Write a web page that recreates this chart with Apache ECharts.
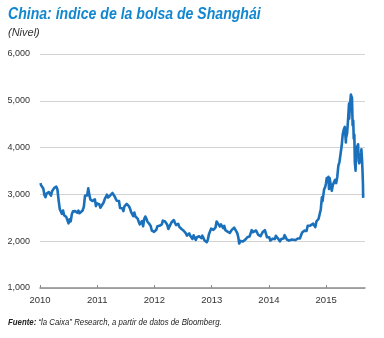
<!DOCTYPE html>
<html><head><meta charset="utf-8">
<script src="https://cdn.jsdelivr.net/npm/echarts@6/dist/echarts.min.js"></script>
<style>html,body{margin:0;padding:0;background:#fff}#c{width:384px;height:338px}</style>
</head><body><div id="c"></div>
<script>
var titleText = 'China: índice de la bolsa de Shanghái';
var subtitleText = '(Nivel)';
var sourceBold = 'Fuente:';
var sourceText = ' “la Caixa” Research, a partir de datos de Bloomberg.';
var yTicks = [1000, 2000, 3000, 4000, 5000, 6000];
var xTickLabels = ['2010', '2011', '2012', '2013', '2014', '2015'];

var dates2010 = ['2010-01-04','2010-01-08','2010-01-15','2010-01-22','2010-01-29','2010-02-05','2010-02-12','2010-02-26','2010-03-05','2010-03-12','2010-03-19','2010-03-26','2010-04-02','2010-04-09','2010-04-15','2010-04-22','2010-04-30','2010-05-07','2010-05-14','2010-05-21','2010-05-28','2010-06-04','2010-06-11','2010-06-18','2010-06-25','2010-07-02','2010-07-09','2010-07-16','2010-07-23','2010-07-30','2010-08-06','2010-08-13','2010-08-20','2010-08-27','2010-09-03','2010-09-10','2010-09-17','2010-09-30','2010-10-08','2010-10-15','2010-10-22','2010-10-29','2010-11-05','2010-11-08','2010-11-12','2010-11-19','2010-11-26','2010-12-03','2010-12-10','2010-12-17','2010-12-24','2010-12-31'];
var values2010 = [3243,3196,3224,3128,2990,2940,3018,3051,3014,2975,3068,3060,3140,3130,3166,3110,2870,2688,2697,2583,2655,2553,2569,2515,2534,2382,2470,2424,2573,2637,2672,2642,2642,2610,2655,2598,2598,2656,2738,2971,2976,2979,3129,3159,2985,2888,2871,2858,2880,2895,2750,2808];

var dates2011 = ['2011-01-07','2011-01-14','2011-01-21','2011-01-28','2011-02-11','2011-02-18','2011-02-25','2011-03-04','2011-03-11','2011-03-18','2011-03-25','2011-04-01','2011-04-08','2011-04-15','2011-04-22','2011-04-29','2011-05-06','2011-05-13','2011-05-20','2011-05-27','2011-06-03','2011-06-10','2011-06-17','2011-06-24','2011-07-01','2011-07-08','2011-07-15','2011-07-22','2011-07-29','2011-08-05','2011-08-12','2011-08-19','2011-08-26','2011-09-02','2011-09-09','2011-09-16','2011-09-23','2011-09-30','2011-10-14','2011-10-21','2011-10-28','2011-11-04','2011-11-11','2011-11-18','2011-11-25','2011-12-02','2011-12-09','2011-12-16','2011-12-23','2011-12-30'];
var values2011 = [2839,2791,2715,2752,2827,2900,2905,2993,2935,2906,2978,2967,3030,3050,2960,2911,2865,2872,2858,2710,2728,2705,2642,2746,2763,2797,2820,2749,2701,2626,2593,2534,2612,2528,2497,2483,2415,2359,2431,2318,2473,2528,2481,2416,2397,2360,2315,2224,2204,2199];

var dates2012 = ['2012-01-06','2012-01-13','2012-01-20','2012-02-03','2012-02-10','2012-02-17','2012-02-24','2012-03-02','2012-03-09','2012-03-16','2012-03-23','2012-03-30','2012-04-06','2012-04-13','2012-04-20','2012-04-27','2012-05-04','2012-05-11','2012-05-18','2012-05-25','2012-06-01','2012-06-08','2012-06-15','2012-06-22','2012-06-29','2012-07-06','2012-07-13','2012-07-20','2012-07-27','2012-08-03','2012-08-10','2012-08-17','2012-08-24','2012-08-31','2012-09-07','2012-09-14','2012-09-21','2012-09-28','2012-10-12','2012-10-19','2012-10-26','2012-11-02','2012-11-09','2012-11-16','2012-11-23','2012-11-30','2012-12-04','2012-12-07','2012-12-14','2012-12-21','2012-12-28'];
var values2012 = [2164,2244,2319,2330,2351,2357,2439,2460,2420,2404,2350,2263,2302,2359,2406,2396,2452,2394,2345,2333,2373,2306,2306,2260,2225,2224,2185,2168,2120,2132,2168,2114,2092,2047,2127,2073,2027,2086,2104,2128,2066,2117,2070,2015,2027,1980,1959,2033,2150,2153,2269];

var dates2013 = ['2013-01-04','2013-01-11','2013-01-18','2013-01-25','2013-02-01','2013-02-08','2013-02-22','2013-03-01','2013-03-08','2013-03-15','2013-03-22','2013-03-29','2013-04-03','2013-04-12','2013-04-19','2013-04-26','2013-05-03','2013-05-10','2013-05-17','2013-05-24','2013-05-31','2013-06-07','2013-06-14','2013-06-20','2013-06-25','2013-06-28','2013-07-05','2013-07-12','2013-07-19','2013-07-26','2013-08-02','2013-08-09','2013-08-16','2013-08-23','2013-08-30','2013-09-06','2013-09-13','2013-09-18','2013-09-27','2013-10-11','2013-10-18','2013-10-25','2013-11-01','2013-11-08','2013-11-15','2013-11-22','2013-11-29','2013-12-06','2013-12-13','2013-12-20','2013-12-27','2013-12-31'];
var values2013 = [2276,2243,2285,2292,2419,2432,2314,2359,2319,2278,2328,2237,2225,2206,2244,2177,2205,2247,2283,2288,2301,2210,2162,2073,1951,1979,2007,2039,1992,2010,2030,2052,2085,2057,2098,2136,2236,2191,2160,2229,2193,2133,2149,2106,2136,2196,2220,2237,2196,2084,2101,2116];

var dates2014 = ['2014-01-03','2014-01-10','2014-01-17','2014-01-24','2014-01-30','2014-02-07','2014-02-14','2014-02-21','2014-02-28','2014-03-07','2014-03-12','2014-03-14','2014-03-21','2014-03-28','2014-04-04','2014-04-11','2014-04-18','2014-04-25','2014-05-02','2014-05-09','2014-05-16','2014-05-23','2014-05-30','2014-06-06','2014-06-13','2014-06-20','2014-06-27','2014-07-04','2014-07-11','2014-07-18','2014-07-25','2014-08-01','2014-08-08','2014-08-15','2014-08-22','2014-08-29','2014-09-05','2014-09-12','2014-09-19','2014-09-26','2014-09-30','2014-10-10','2014-10-17','2014-10-24','2014-10-31','2014-11-07','2014-11-14','2014-11-21','2014-11-28','2014-12-05','2014-12-09','2014-12-12','2014-12-19','2014-12-26','2014-12-31'];
var values2014 = [2083,2013,2004,2054,2033,2045,2115,2113,2056,2057,1997,2004,2047,2041,2058,2130,2097,2036,2027,2011,2026,2034,2039,2030,2070,2024,2036,2059,2047,2059,2127,2185,2194,2226,2241,2217,2327,2331,2329,2347,2364,2374,2341,2302,2420,2419,2479,2487,2683,2938,2856,2938,3108,3157,3235];

var dates2015 = ['2015-01-05','2015-01-09','2015-01-16','2015-01-19','2015-01-23','2015-01-30','2015-02-06','2015-02-13','2015-02-27','2015-03-06','2015-03-13','2015-03-20','2015-03-27','2015-04-03','2015-04-10','2015-04-17','2015-04-24','2015-04-30','2015-05-07','2015-05-08','2015-05-15','2015-05-22','2015-05-27','2015-05-28','2015-06-01','2015-06-05','2015-06-08','2015-06-12','2015-06-15','2015-06-19','2015-06-23','2015-06-26','2015-06-30','2015-07-03','2015-07-08','2015-07-10','2015-07-13','2015-07-17','2015-07-24','2015-07-27','2015-07-31','2015-08-07','2015-08-12','2015-08-14','2015-08-18','2015-08-21','2015-08-24','2015-08-25','2015-08-26'];
var values2015 = [3351,3285,3376,3116,3351,3210,3076,3204,3310,3241,3373,3617,3692,3864,4034,4287,4393,4441,4112,4205,4308,4657,4941,4620,4828,5023,5131,5166,5062,4478,4576,4193,4277,3687,3507,3878,3970,3957,4070,3725,3664,3744,3887,3965,3748,3507,3210,2965,2927];

var dates = [].concat(dates2010, dates2011, dates2012, dates2013, dates2014, dates2015);
var values = [].concat(values2010, values2011, values2012, values2013, values2014, values2015);
var seriesData = dates.map(function (d, i) { return [d, values[i]]; });

var ff = "'Liberation Sans', Arial, sans-serif";
var chart = echarts.init(document.getElementById('c'), null, {renderer: 'canvas'});
chart.setOption({
  animation: false,
  backgroundColor: '#ffffff',
  graphic: [
    {type: 'text', left: 8, top: 7, scaleX: 0.88, originX: 0,
     style: {text: titleText, fill: '#1287d0', font: 'italic bold 16px ' + ff}},
    {type: 'text', left: 8, top: 27,
     style: {text: subtitleText, fill: '#333', font: 'italic 11px ' + ff}},
    {type: 'text', left: 8, top: 318, scaleX: 0.87, originX: 0,
     style: {
       text: '{b|' + sourceBold + '}{i|' + sourceText + '}',
       rich: {
         b: {font: 'italic bold 9px ' + ff, fill: '#222'},
         i: {font: 'italic 9px ' + ff, fill: '#222'}
       }
     }}
  ],
  grid: {left: 40, right: 19, top: 54, bottom: 50, containLabel: false},
  xAxis: {
    type: 'time',
    min: '2010-01-01',
    max: '2015-09-06',
    interval: 365.25 * 24 * 3600 * 1000,
    axisLine: {lineStyle: {color: '#8c8c8c', width: 1.5}},
    axisTick: {show: true, inside: true, length: 3, lineStyle: {color: '#8c8c8c'}},
    splitLine: {show: false},
    axisLabel: {
      color: '#333', fontFamily: ff, fontSize: 9.5, margin: 7,
      formatter: function (v) {
        var y = new Date(v).getFullYear();
        return xTickLabels.indexOf(String(y)) >= 0 ? String(y) : '';
      }
    }
  },
  yAxis: {
    type: 'value',
    min: yTicks[0], max: yTicks[yTicks.length - 1], interval: 1000,
    axisLine: {show: false}, axisTick: {show: false},
    splitLine: {lineStyle: {color: '#d3d3d3', width: 1}},
    axisLabel: {
      color: '#333', fontFamily: ff, fontSize: 9, margin: 10,
      formatter: function (v) { return v.toLocaleString('en-US'); }
    }
  },
  series: [{
    type: 'line', data: seriesData, showSymbol: false, symbol: 'none',
    lineStyle: {color: '#1a70bb', width: 2.6, join: 'round'},
    z: 3
  }]
});
</script></body></html>
